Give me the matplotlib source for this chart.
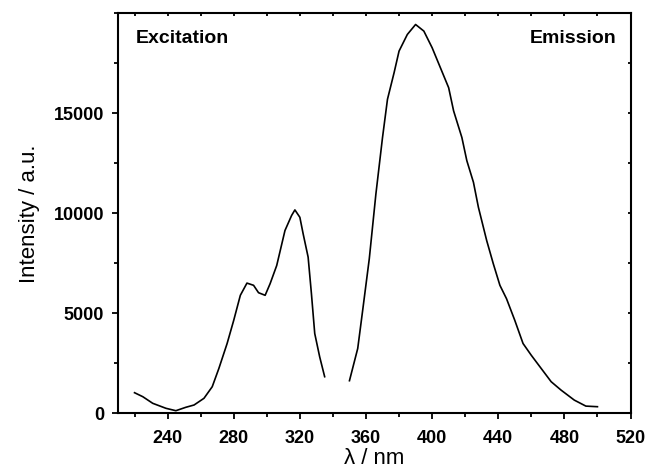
import matplotlib
matplotlib.use("Agg")
import matplotlib.pyplot as plt
from matplotlib.ticker import MultipleLocator

plt.rcParams['font.family'] = ['Liberation Sans', 'DejaVu Sans']

# excitation spectrum
exc_wl = [220, 225, 231, 239, 245, 251, 256, 262, 267, 271, 276, 280, 284,
          288, 292, 295, 299, 302, 306, 311, 315, 317, 320, 322, 325, 327,
          329, 332, 335]
exc_int = [1030, 830, 500, 250, 130, 300, 415, 750, 1330, 2240, 3490, 4650,
           5900, 6510, 6400, 6030, 5900, 6480, 7390, 9140, 9890, 10170, 9800,
           8970, 7810, 5980, 3990, 2820, 1830]

# emission spectrum
em_wl = [350, 355, 358, 362, 366, 370, 373, 377, 380, 385, 390, 395, 400,
         405, 410, 413, 418, 421, 425, 428, 433, 437, 441, 445, 450, 455,
         460, 466, 472, 478, 486, 493, 500]
em_int = [1630, 3240, 5150, 7730, 10970, 13790, 15700, 17030, 18110, 18940,
          19440, 19110, 18280, 17280, 16280, 15120, 13790, 12630, 11550,
          10300, 8640, 7480, 6400, 5730, 4650, 3490, 2900, 2240, 1580, 1160,
          660, 360, 330]

fig = plt.figure(figsize=(6.48, 4.73), dpi=100)
ax = fig.add_axes([0.1821, 0.1262, 0.7909, 0.8457])

ax.plot(exc_wl, exc_int, color='black', lw=1.2)
ax.plot(em_wl, em_int, color='black', lw=1.2)

ax.set_xlim(210, 520)
ax.set_ylim(0, 20000)
ax.set_xticks(range(240, 521, 40))
ax.xaxis.set_minor_locator(MultipleLocator(20))
ax.set_yticks([0, 5000, 10000, 15000])
ax.yaxis.set_minor_locator(MultipleLocator(2500))

for s in ax.spines.values():
    s.set_linewidth(1.5)
ax.tick_params(which='both', direction='out', width=1.3, top=True, right=True,
               labelsize=13, pad=6)
ax.tick_params(axis='x', which='major', pad=8)
ax.tick_params(which='major', length=4)
ax.tick_params(which='minor', length=3)
for lbl in ax.get_xticklabels() + ax.get_yticklabels():
    lbl.set_fontweight('bold')

# top/right ticks point inward
for t in ax.xaxis.get_major_ticks() + ax.xaxis.get_minor_ticks():
    t.tick2line.set_marker(3)
    t.tick2line.set_markersize(2.5)
for t in ax.yaxis.get_major_ticks() + ax.yaxis.get_minor_ticks():
    t.tick2line.set_marker(0)
    t.tick2line.set_markersize(2.5)

ax.set_xlabel('λ / nm', fontsize=16, labelpad=1)
ax.set_ylabel('Intensity / a.u.', fontsize=16, labelpad=10)

ax.text(0.034, 0.936, 'Excitation', transform=ax.transAxes, fontsize=14,
        fontweight='bold', ha='left', va='center')
ax.text(0.972, 0.936, 'Emission', transform=ax.transAxes, fontsize=14,
        fontweight='bold', ha='right', va='center')

fig.savefig('out.png', dpi=100)
